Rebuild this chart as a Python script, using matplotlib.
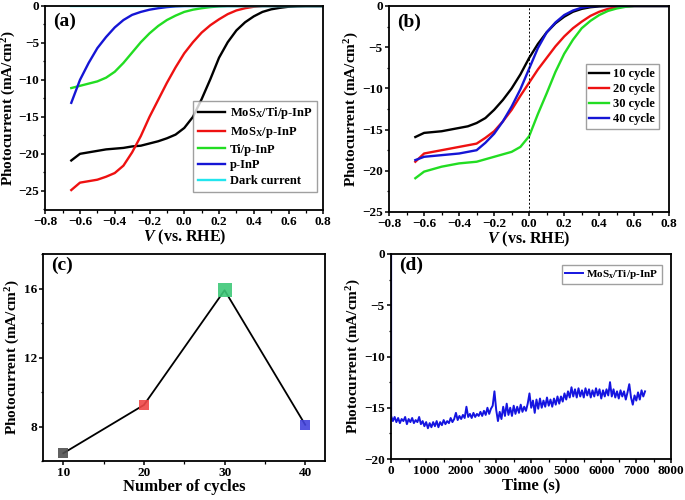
import matplotlib
matplotlib.use('Agg')
import matplotlib.pyplot as plt
import numpy as np
from matplotlib.ticker import MultipleLocator

plt.rcParams['font.family'] = 'Liberation Serif'
plt.rcParams['font.weight'] = 'bold'
plt.rcParams['mathtext.fontset'] = 'custom'
plt.rcParams['mathtext.rm'] = 'Liberation Serif:bold'
plt.rcParams['mathtext.bf'] = 'Liberation Serif:bold'
plt.rcParams['mathtext.it'] = 'Liberation Serif:italic:bold'

# ---- (a) LSV of the different electrodes ----
volt_a = [-0.65, -0.60, -0.55, -0.50, -0.45, -0.40, -0.35, -0.30, -0.25, -0.20,
          -0.15, -0.10, -0.05, 0.00, 0.05, 0.10, 0.15, 0.20, 0.25, 0.30,
          0.35, 0.40, 0.45, 0.50, 0.55, 0.60, 0.65, 0.70, 0.75, 0.80]
mosx_ti_inp = [-20.9, -20.0, -19.8, -19.6, -19.4, -19.3, -19.2, -19.0, -18.9, -18.6,
               -18.3, -17.9, -17.4, -16.5, -15.0, -12.6, -9.9, -7.0, -4.9, -3.3,
               -2.2, -1.4, -0.8, -0.45, -0.25, -0.1, -0.03, 0.0, 0.0, 0.0]
mosx_inp = [-24.9, -23.9, -23.7, -23.5, -23.1, -22.6, -21.6, -19.8, -17.6, -15.0,
            -12.7, -10.4, -8.3, -6.4, -4.9, -3.6, -2.6, -1.8, -1.1, -0.6,
            -0.3, -0.1, 0.0, 0.0, 0.0, 0.0, 0.0, 0.0, 0.0, 0.0]
ti_inp = [-11.1, -10.8, -10.5, -10.2, -9.7, -8.9, -7.7, -6.3, -4.9, -3.7,
          -2.7, -1.9, -1.3, -0.8, -0.5, -0.3, -0.15, -0.05, 0.0, 0.0,
          0.0, 0.0, 0.0, 0.0, 0.0, 0.0, 0.0, 0.0, 0.0, 0.0]
p_inp = [-13.1, -10.0, -7.7, -5.7, -4.2, -2.9, -1.9, -1.2, -0.8, -0.5,
         -0.3, -0.15, -0.05, 0.0, 0.0, 0.0, 0.0, 0.0, 0.0, 0.0,
         0.0, 0.0, 0.0, 0.0, 0.0, 0.0, 0.0, 0.0, 0.0, 0.0]
dark = [0.0] * 30
labels_a = ['MoS$_\\mathrm{X}$/Ti/p-InP', 'MoS$_\\mathrm{X}$/p-InP', 'Ti/p-InP', 'p-InP', 'Dark current']

# ---- (b) LSV for different deposition cycles ----
volt_b = volt_a
cyc10 = [-15.9, -15.4, -15.3, -15.2, -15.0, -14.8, -14.6, -14.2, -13.6, -12.6,
         -11.4, -10.0, -8.3, -6.3, -4.6, -3.2, -2.1, -1.3, -0.7, -0.35,
         -0.15, -0.05, 0.0, 0.0, 0.0, 0.0, 0.0, 0.0, 0.0, 0.0]
cyc20 = [-18.9, -17.9, -17.7, -17.5, -17.3, -17.1, -16.9, -16.7, -16.0, -15.2,
         -14.0, -12.6, -10.9, -9.3, -7.7, -6.3, -4.9, -3.7, -2.7, -1.9,
         -1.2, -0.7, -0.35, -0.15, -0.05, 0.0, 0.0, 0.0, 0.0, 0.0]
cyc30 = [-20.9, -20.1, -19.8, -19.5, -19.3, -19.1, -19.0, -18.9, -18.6, -18.3,
         -18.0, -17.7, -17.1, -15.8, -13.1, -10.6, -8.0, -5.8, -4.1, -2.7,
         -1.8, -1.1, -0.6, -0.3, -0.1, 0.0, 0.0, 0.0, 0.0, 0.0]
cyc40 = [-18.7, -18.3, -18.2, -18.1, -18.0, -17.9, -17.7, -17.5, -16.6, -15.5,
         -14.0, -12.2, -10.1, -7.6, -5.1, -3.2, -2.0, -1.1, -0.55, -0.2,
         -0.05, 0.0, 0.0, 0.0, 0.0, 0.0, 0.0, 0.0, 0.0, 0.0]
labels_b = ['10 cycle', '20 cycle', '30 cycle', '40 cycle']

# ---- (c) photocurrent vs cycles ----
cycles = [10, 20, 30, 40]
photo_c = [6.45, 9.25, 15.9, 8.1]

# ---- (d) stability ----
time_s = np.arange(0, 7251, 50)
photo_d = [-15.8, -16.3, -15.9, -16.4, -16.0, -16.5, -16.1, -16.3, -15.9, -16.6,
           -16.1, -16.4, -16.0, -16.5, -16.2, -16.4, -15.9, -16.6, -16.3, -16.8,
           -16.4, -17.0, -16.5, -16.9, -16.4, -16.8, -16.3, -16.9, -16.4, -16.7,
           -16.2, -16.6, -16.3, -16.5, -16.0, -16.4, -16.1, -15.5, -16.2, -15.8,
           -16.1, -15.7, -16.0, -14.9, -15.9, -15.6, -16.0, -15.5, -15.9, -15.6,
           -15.8, -15.4, -15.8, -15.3, -15.7, -15.0, -15.6, -15.1, -14.8, -13.4,
           -15.2, -16.3, -15.4, -16.1, -14.9, -15.8, -14.6, -15.7, -15.0, -15.8,
           -14.8, -15.6, -14.9, -15.5, -14.7, -15.4, -14.9, -15.3, -14.6, -13.6,
           -15.0, -14.3, -15.5, -14.2, -15.1, -14.1, -15.0, -14.3, -14.9, -14.0,
           -14.8, -14.2, -14.9, -14.1, -14.7, -13.9, -14.6, -13.9, -14.4, -13.6,
           -14.2, -13.4, -14.0, -13.0, -13.9, -13.2, -14.0, -13.1, -13.9, -13.3,
           -14.0, -13.1, -13.8, -13.2, -14.0, -13.3, -13.9, -13.1, -13.8, -13.2,
           -14.1, -13.3, -13.9, -13.2, -13.8, -12.5, -13.9, -13.2, -14.0, -13.4,
           -14.1, -13.3, -13.9, -13.4, -14.2, -13.5, -12.7, -14.0, -14.7, -13.8,
           -14.3, -13.5, -14.2, -13.3, -13.9, -13.4]

col_a = ['#000000', '#ee1111', '#22dd22', '#1515d5', '#22e5ee']
col_b = ['#000000', '#ee1111', '#22dd22', '#1515d5']
col_c = ['#505050', '#f04848', '#3ec878', '#4444dd']

TICK = 9.5
LAB = 11

fig = plt.figure(figsize=(6.85, 5.0), dpi=100)
ax_a = fig.add_axes([0.066, 0.58, 0.406, 0.408])
ax_b = fig.add_axes([0.568, 0.576, 0.409, 0.412])
ax_c = fig.add_axes([0.063, 0.078, 0.412, 0.414])
ax_d = fig.add_axes([0.571, 0.082, 0.409, 0.41])


def style(ax):
    for s in ax.spines.values():
        s.set_linewidth(1.3)
    ax.tick_params(which='major', direction='out', length=3, width=1.1, labelsize=TICK, pad=1.5)
    ax.tick_params(which='minor', direction='out', length=1.8, width=0.9)
    for t in ax.get_xticklabels() + ax.get_yticklabels():
        t.set_fontweight('bold')


ylab = 'Photocurrent (mA/cm$^2$)'
vlab = '$\\it{V}$ (vs. RHE)'

# (a)
for y, c, l in zip([mosx_ti_inp, mosx_inp, ti_inp, p_inp, dark], col_a, labels_a):
    ax_a.plot(volt_a, y, color=c, lw=1.7, label=l)
ax_a.set_xlim(-0.8, 0.8)
ax_a.set_ylim(-27.6, 0)
ax_a.xaxis.set_major_locator(MultipleLocator(0.2))
ax_a.xaxis.set_minor_locator(MultipleLocator(0.1))
ax_a.yaxis.set_major_locator(MultipleLocator(5))
ax_a.yaxis.set_minor_locator(MultipleLocator(2.5))
ax_a.set_xlabel(vlab, fontsize=LAB + 0.5, fontweight='bold', labelpad=0)
ax_a.set_ylabel(ylab, fontsize=LAB, fontweight='bold', labelpad=0.5)
ax_a.text(0.03, 0.965, '(a)', transform=ax_a.transAxes, fontsize=14, fontweight='bold', va='top')
ax_a.legend(loc='lower right', bbox_to_anchor=(1.0, 0.06), frameon=True,
            fancybox=False, edgecolor='#888888', handlelength=2.2, labelspacing=0.3,
            borderpad=0.35, handletextpad=0.4, prop={'weight': 'bold', 'size': 9})
style(ax_a)

# (b)
for y, c, l in zip([cyc10, cyc20, cyc30, cyc40], col_b, labels_b):
    ax_b.plot(volt_b, y, color=c, lw=1.7, label=l)
ax_b.axvline(0, color='black', lw=0.7, ls=(0, (2, 2)))
ax_b.set_xlim(-0.8, 0.8)
ax_b.set_ylim(-25, 0)
ax_b.xaxis.set_major_locator(MultipleLocator(0.2))
ax_b.xaxis.set_minor_locator(MultipleLocator(0.1))
ax_b.yaxis.set_major_locator(MultipleLocator(5))
ax_b.yaxis.set_minor_locator(MultipleLocator(2.5))
ax_b.set_xlabel(vlab, fontsize=LAB + 0.5, fontweight='bold', labelpad=0)
ax_b.set_ylabel(ylab, fontsize=LAB, fontweight='bold', labelpad=0.5)
ax_b.text(0.03, 0.965, '(b)', transform=ax_b.transAxes, fontsize=14, fontweight='bold', va='top')
ax_b.legend(loc='center right', bbox_to_anchor=(0.985, 0.56), frameon=True, fancybox=False,
            edgecolor='#888888', handlelength=1.6, labelspacing=0.25, borderpad=0.3,
            handletextpad=0.3, prop={'weight': 'bold', 'size': 9})
style(ax_b)

# (c)
ax_c.plot(cycles, photo_c, color='black', lw=1.3, zorder=1)
for x, y, c, s in zip(cycles, photo_c, col_c, [55, 55, 110, 55]):
    ax_c.scatter(x, y, marker='s', s=s, color=c, alpha=0.9, zorder=2, linewidths=0)
ax_c.set_xlim(7.5, 42.5)
ax_c.set_ylim(6, 18)
ax_c.set_xticks(cycles)
ax_c.xaxis.set_minor_locator(MultipleLocator(5))
ax_c.yaxis.set_major_locator(MultipleLocator(4))
ax_c.yaxis.set_minor_locator(MultipleLocator(2))
ax_c.set_xlabel('Number of cycles', fontsize=LAB + 1, fontweight='bold', labelpad=0)
ax_c.set_ylabel(ylab, fontsize=LAB, fontweight='bold', labelpad=1)
ax_c.text(0.03, 0.985, '(c)', transform=ax_c.transAxes, fontsize=14, fontweight='bold', va='top')
style(ax_c)

# (d)
ax_d.plot(np.concatenate([[0], time_s]), [0] + photo_d, color='#1515e0', lw=1.4,
          label='MoS$_\\mathrm{x}$/Ti/p-InP')
ax_d.set_xlim(0, 8000)
ax_d.set_ylim(-20, 0)
ax_d.xaxis.set_major_locator(MultipleLocator(1000))
ax_d.xaxis.set_minor_locator(MultipleLocator(500))
ax_d.yaxis.set_major_locator(MultipleLocator(5))
ax_d.yaxis.set_minor_locator(MultipleLocator(2.5))
ax_d.set_xlabel('Time (s)', fontsize=LAB + 1, fontweight='bold', labelpad=0)
ax_d.set_ylabel(ylab, fontsize=LAB, fontweight='bold', labelpad=0.5)
ax_d.text(0.03, 0.985, '(d)', transform=ax_d.transAxes, fontsize=14, fontweight='bold', va='top')
ax_d.legend(loc='upper right', bbox_to_anchor=(0.985, 0.975), frameon=True, fancybox=False,
            edgecolor='#888888', handlelength=1.6, borderpad=0.3, handletextpad=0.3,
            prop={'weight': 'bold', 'size': 8})
style(ax_d)

fig.savefig('out.png', dpi=100)
